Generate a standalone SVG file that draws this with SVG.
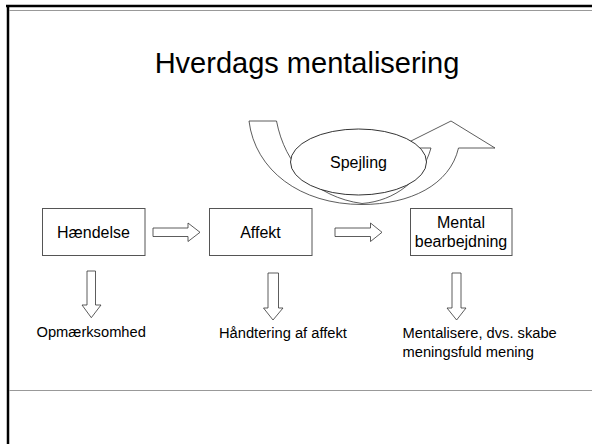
<svg xmlns="http://www.w3.org/2000/svg" width="592" height="444" viewBox="0 0 592 444">
<style>
  .box { fill: #fff; stroke: #555; stroke-width: 1; }
  .arr { fill: #fff; stroke: #333; stroke-width: 0.8; stroke-linejoin: miter; }
  .lbl { font-family: "Liberation Sans", Arial, sans-serif; font-size: 16px; fill: #000; text-anchor: middle; }
  .sub { font-family: "Liberation Sans", Arial, sans-serif; font-size: 14.7px; fill: #000; }
  .title { font-family: "Liberation Sans", Arial, sans-serif; font-size: 29px; fill: #000; text-anchor: middle; }
</style>
<rect width="592" height="444" fill="#fff"/>
<g id="frame">
  <line x1="6" y1="6" x2="592" y2="6" stroke="#000" stroke-width="2.5"/>
  <line x1="8" y1="5" x2="8" y2="444" stroke="#000" stroke-width="2.5"/>
  <line x1="9" y1="10.5" x2="592" y2="10.5" stroke="#999" stroke-width="1"/>
  <line x1="9" y1="390.5" x2="592" y2="390.5" stroke="#999" stroke-width="1"/>
</g>
<text id="title" class="title" x="307" y="73">Hverdags mentalisering</text>
<g id="connectors">
  <path id="curved-arrow" class="arr" d="M249,121 L276.5,121 C285,165 315,197 362,203.5 C395,201 422,180 431,148 L397,148 L451,121 L495,148 L458.5,148 C450,185 410,204.5 362,204.5 C300,204.5 255,170 249,121 Z"/>
  <path class="arr" d="M153,228 L188,228 L188,223 L200,232.3 L188,241.5 L188,236.5 L153,236.5 Z"/>
  <path class="arr" d="M335,228 L370.5,228 L370.5,223 L382,232.3 L370.5,241.5 L370.5,236.5 L335,236.5 Z"/>
  <path class="arr" d="M87,271 L95.5,271 L95.5,305 L101,305 L91.3,317.7 L82,305 L87,305 Z"/>
  <path class="arr" d="M268,273 L278.5,273 L278.5,308 L283,308 L273,320 L263.5,308 L268,308 Z"/>
  <path class="arr" d="M452,273 L461,273 L461,308 L466,308 L456.6,320 L447,308 L452,308 Z"/>
</g>
<g id="spejling">
  <ellipse cx="358.5" cy="162" rx="68" ry="33" fill="#fff" stroke="#000" stroke-width="0.8"/>
  <text class="lbl" x="358.5" y="167.5">Spejling</text>
</g>
<g id="haendelse">
  <rect class="box" x="42.5" y="208.5" width="102.5" height="47"/>
  <text class="lbl" x="93.5" y="238">Hændelse</text>
</g>
<g id="affekt">
  <rect class="box" x="209.5" y="208.5" width="102.5" height="47"/>
  <text class="lbl" x="260.5" y="238">Affekt</text>
</g>
<g id="mental">
  <rect class="box" x="410.5" y="208.5" width="101.5" height="47"/>
  <text class="lbl" x="461" y="228">Mental</text>
  <text class="lbl" x="461" y="247">bearbejdning</text>
</g>
<g id="opmaerksomhed">
  <text class="sub" x="36.5" y="336.5">Opmærksomhed</text>
</g>
<g id="haandtering">
  <text class="sub" x="219" y="338">Håndtering af affekt</text>
</g>
<g id="mentalisere">
  <text class="sub" x="402.5" y="338">Mentalisere, dvs. skabe</text>
  <text class="sub" x="402.5" y="356.5">meningsfuld mening</text>
</g>
</svg>
